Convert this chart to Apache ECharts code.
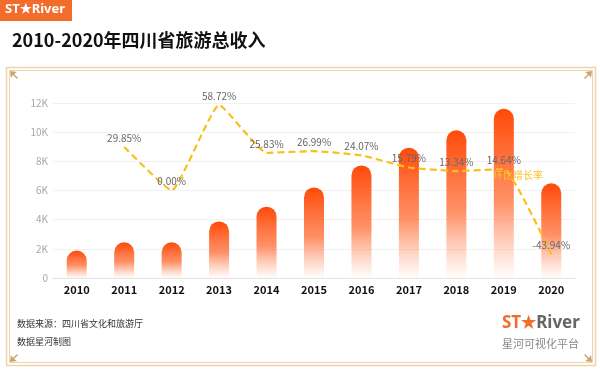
<!DOCTYPE html>
<html>
<head>
<meta charset="utf-8">
<script src="https://cdn.jsdelivr.net/npm/echarts@6/dist/echarts.min.js"></script>
<style>
html,body{margin:0;padding:0;background:#fff;}
#c{width:600px;height:374px;}
</style>
</head>
<body>
<div id="c"></div>
<script>
var years = ['2010','2011','2012','2013','2014','2015','2016','2017','2018','2019','2020'];
var revenue = [1880, 2450, 2450, 3880, 4890, 6210, 7720, 8940, 10130, 11600, 6500];
var growth = [null, 29.85, 0.00, 58.72, 25.83, 26.99, 24.07, 15.79, 13.34, 14.64, -43.94];
var yTicks = [0, 2000, 4000, 6000, 8000, 10000, 12000];

var chart = echarts.init(document.getElementById('c'), null, {renderer:'canvas'});
var font = '"Noto Sans CJK SC", "Noto Sans", sans-serif';
var frameColor = '#efd3ad';
var cornerColor = '#c9a36d';

function corner(x, y, dx, dy) {
  return {
    type: 'polygon',
    shape: { points: [[x, y], [x + 7*dx, y + 1*dy], [x + 4*dx, y + 3*dy], [x + 8*dx, y + 7*dy], [x + 7*dx, y + 8*dy], [x + 3*dx, y + 4*dy], [x + 1*dx, y + 7*dy]] },
    style: { fill: cornerColor },
    z: 10
  };
}

chart.setOption({
  backgroundColor: '#fff',
  textStyle: { fontFamily: font },
  animation: false,
  grid: { left: 53, right: 25, top: 103, bottom: 96 },
  xAxis: {
    type: 'category',
    data: years,
    axisLine: { lineStyle: { color: '#e3e3e3' } },
    axisTick: { lineStyle: { color: '#e3e3e3' } },
    axisLabel: { color: '#111', fontWeight: 'bold', fontSize: 11, margin: 6, fontFamily: font }
  },
  yAxis: [{
    type: 'value',
    min: yTicks[0],
    max: yTicks[yTicks.length - 1],
    interval: 2000,
    axisLine: { show: false },
    axisTick: { show: false },
    splitLine: { lineStyle: { color: '#f1f1f1' } },
    axisLabel: {
      color: '#a8a8a8', fontSize: 10, margin: 5,
      formatter: function (v) { return v === 0 ? '0' : (v / 1000) + 'K'; }
    }
  }, {
    type: 'value',
    min: -60,
    max: 60,
    show: false
  }],
  series: [{
    type: 'bar',
    data: revenue,
    barWidth: 20,
    itemStyle: {
      borderRadius: [10, 10, 0, 0],
      color: new echarts.graphic.LinearGradient(0, 0, 0, 1, [
        { offset: 0, color: 'rgba(255,74,8,1)' },
        { offset: 0.55, color: 'rgba(255,125,75,0.85)' },
        { offset: 1, color: 'rgba(255,150,110,0.02)' }
      ])
    },
    z: 2
  }, {
    type: 'line',
    name: '环比增长率',
    yAxisIndex: 1,
    data: growth,
    smooth: 0.12,
    showSymbol: true,
    symbol: 'circle',
    symbolSize: 2,
    itemStyle: { color: 'rgba(249,192,29,0)', borderWidth: 0 },
    lineStyle: { color: '#f9c01d', width: 2.2, type: [7, 4] },
    label: {
      show: true,
      position: 'top',
      distance: 3,
      color: '#666',
      fontSize: 10,
      formatter: function (p) { return p.value == null ? '' : Number(p.value).toFixed(2) + '%'; }
    },
    z: 3
  }],
  graphic: [
    { type: 'rect', shape: { x: 0, y: 0, width: 72, height: 21 }, style: { fill: '#f26c2b' } },
    { type: 'text', left: 5, top: 3, style: { text: 'ST★River', fill: '#fff', font: 'bold 13px "Noto Sans", sans-serif' } },
    { type: 'text', left: 12, top: 31, style: { text: '2010-2020年四川省旅游总收入', fill: '#111', font: 'bold 18px "Noto Sans CJK SC", sans-serif' } },
    { type: 'rect', shape: { x: 6.5, y: 67.5, width: 589, height: 298 }, style: { fill: null, stroke: frameColor, lineWidth: 1.5 } },
    { type: 'rect', shape: { x: 9.5, y: 70.5, width: 583, height: 292 }, style: { fill: null, stroke: frameColor, lineWidth: 1 } },
    corner(10, 71, 1, 1),
    corner(592, 71, -1, 1),
    corner(10, 362, 1, -1),
    corner(592, 362, -1, -1),
    { type: 'text', left: 493, top: 170, style: { text: '环比增长率', fill: '#f8c42a', font: '10px "Noto Sans CJK SC", sans-serif' }, z: 20 },
    { type: 'text', left: 17, top: 319, style: { text: '数据来源：四川省文化和旅游厅', fill: '#333', font: '9px "Noto Sans CJK SC", sans-serif' } },
    { type: 'text', left: 17, top: 337, style: { text: '数据星河制图', fill: '#333', font: '9px "Noto Sans CJK SC", sans-serif' } },
    { type: 'text', left: 502, top: 315, style: {
        text: '{a|ST★}{b|River}',
        rich: {
          a: { fill: '#f26c2b', font: 'bold 17px "Noto Sans", sans-serif' },
          b: { fill: '#666', font: 'bold 17px "Noto Sans", sans-serif' }
        }
      } },
    { type: 'text', left: 502, top: 338, style: { text: '星河可视化平台', fill: '#888', font: '11px "Noto Sans CJK SC", sans-serif' } }
  ]
});
</script>
</body>
</html>
